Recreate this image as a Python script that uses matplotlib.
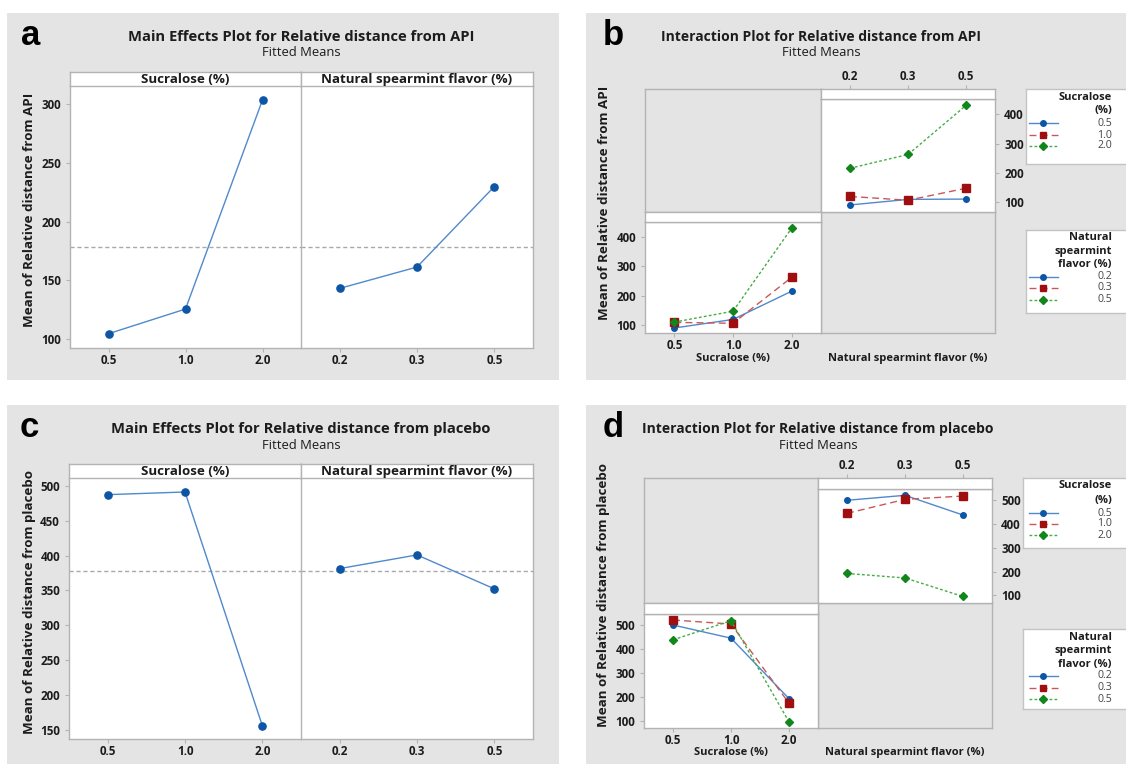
import matplotlib
matplotlib.use('Agg')
import matplotlib.pyplot as plt
from matplotlib.patches import Rectangle
import numpy as np

plt.rcParams['font.family'] = ['Open Sans', 'DejaVu Sans']
plt.rcParams['font.weight'] = 'bold'

# ---------------- data ----------------
sucralose_levels = ['0.5', '1.0', '2.0']
spearmint_levels = ['0.2', '0.3', '0.5']

api_main_sucralose = [104.5, 125.5, 303.7]
api_main_spearmint = [143.1, 161.3, 229.9]
api_grand_mean = 178.0

placebo_main_sucralose = [487.6, 491.4, 155.7]
placebo_main_spearmint = [381.4, 401.0, 352.3]
placebo_grand_mean = 378.1

# cell means: rows = sucralose level, columns = spearmint level
api_cell_means = [[91, 110, 111],
                  [120, 107, 148],
                  [216, 263, 430]]
placebo_cell_means = [[500, 521, 438],
                      [445, 504, 518],
                      [192, 173, 95]]

api_yticks = [100, 200, 300, 400]
placebo_yticks = [100, 200, 300, 400, 500]
api_main_yticks = [100, 150, 200, 250, 300]
placebo_main_yticks = [150, 200, 250, 300, 350, 400, 450, 500]

# ---------------- styling ----------------
W, H = 1126, 764
fig = plt.figure(figsize=(W / 100, H / 100), dpi=100)
fig.patch.set_facecolor('white')

BG = '#e4e4e4'
SPINE = '#b3b3b3'
TXT = '#1c1c1c'
BLUE_L, BLUE_M = '#5089cc', '#0d56a6'
RED_L, RED_M = '#c8585a', '#a00f0f'
GREEN_L, GREEN_M = '#45ad45', '#11861a'

series_styles = [
    dict(color=BLUE_L, ls='-', lw=1.0, marker='o', ms=4.0, mfc=BLUE_M, mec=BLUE_M),
    dict(color=RED_L, ls=(0, (5, 3)), lw=1.0, marker='s', ms=5.2, mfc=RED_M, mec=RED_M),
    dict(color=GREEN_L, ls=(0, (2, 1.6)), lw=1.0, marker='D', ms=4.5, mfc=GREEN_M, mec=GREEN_M),
]
legend_ms = [4.0, 4.6, 4.0]


def ax_px(x0, y0, x1, y1, **kw):
    return fig.add_axes([x0 / W, 1 - y1 / H, (x1 - x0) / W, (y1 - y0) / H], **kw)


def txt(x, y, s, **kw):
    return fig.text(x / W, 1 - y / H, s, **kw)


def panel_bg(x0, y0, x1, y1):
    fig.add_artist(Rectangle((x0 / W, 1 - y1 / H), (x1 - x0) / W, (y1 - y0) / H,
                             transform=fig.transFigure, facecolor=BG,
                             edgecolor='none', zorder=-10))


def style(ax, fc='white'):
    ax.set_facecolor(fc)
    for s in ax.spines.values():
        s.set_color(SPINE)
        s.set_linewidth(1.0)
    ax.tick_params(colors=SPINE, labelcolor=TXT, length=3, width=0.8, labelsize=8.4)


def strip(x0, y0, x1, y1, label=None, top_labels=None):
    sax = ax_px(x0, y0, x1, y1)
    style(sax)
    sax.set_yticks([])
    if top_labels is None:
        sax.set_xticks([])
    else:
        sax.set_xlim(-0.5, 2.5)
        sax.set_xticks(np.arange(len(top_labels)), top_labels)
        sax.xaxis.tick_top()
        sax.tick_params(axis='x', pad=1.5)
    if label:
        sax.text(0.5, 0.45, label, ha='center', va='center', fontsize=9.6,
                 fontweight='bold', color=TXT, transform=sax.transAxes)
    return sax


def main_effects(x0, xm, x1, ys, yb, ybot, ylim, yticks, sucr, spear, gmean,
                 ylabel, letter, title, title_x, title_y):
    specs = [(x0, xm, sucr, sucralose_levels, 'Sucralose (%)', True),
             (xm, x1, spear, spearmint_levels, 'Natural spearmint flavor (%)', False)]
    for a, b, vals, levels, name, left in specs:
        ax = ax_px(a, yb, b, ybot)
        style(ax)
        pos = np.arange(len(levels))
        ax.axhline(gmean, color='#a9a9a9', ls=(0, (3, 2)), lw=1.0, zorder=1)
        ax.plot(pos, vals, color=BLUE_L, lw=1.0, marker='o', ms=5.2,
                mfc=BLUE_M, mec=BLUE_M, zorder=3)
        ax.set_xlim(-0.5, 2.5)
        ax.set_ylim(*ylim)
        ax.set_xticks(pos, levels)
        ax.tick_params(axis='x', pad=1.5)
        if left:
            ax.set_yticks(yticks)
            ax.spines['right'].set_visible(False)
        else:
            ax.set_yticks([])
        ax.spines['top'].set_visible(False)
        strip(a, ys, b, yb, label=name)
    txt(30, (ys + ybot) / 2, ylabel, rotation=90, ha='center', va='center',
        fontsize=9.6, fontweight='bold', color=TXT)
    txt(title_x, title_y, title, ha='center', va='center', fontsize=10.6,
        fontweight='bold', color=TXT)
    txt(title_x, title_y + 16, 'Fitted Means', ha='center', va='center',
        fontsize=9.4, fontweight='normal', color=TXT)
    txt(x0 - 49, title_y + 8, letter, ha='left', va='baseline', fontsize=25,
        fontweight='bold', color='black', family=['Liberation Sans', 'DejaVu Sans'])


def legend_box(x0, y0, y1, title_lines, labels, title_y, entry_y):
    lax = ax_px(x0, y0, x0 + 110, y1)
    lax.set_facecolor('white')
    for s in lax.spines.values():
        s.set_color('#c4c4c4')
        s.set_linewidth(1.0)
    lax.set_xticks([])
    lax.set_yticks([])
    lax.set_xlim(0, 110)
    lax.set_ylim(y1 - y0, 0)
    xr = 1112 - x0
    for k, line in enumerate(title_lines):
        lax.text(xr, title_y[k] - y0, line, ha='right', va='center', fontsize=8,
                 fontweight='bold', color=TXT)
    for k, lab in enumerate(labels):
        yy = entry_y[k] - y0
        st = series_styles[k]
        lax.plot([1029 - x0, 1058 - x0], [yy, yy], color=st['color'], ls=st['ls'], lw=1.0)
        lax.plot([1043 - x0], [yy], ls='none', marker=st['marker'], ms=legend_ms[k],
                 mfc=st['mfc'], mec=st['mec'])
        lax.text(xr, yy, lab, ha='right', va='center', fontsize=7.6,
                 fontweight='normal', color='#444444')


def interaction(gx0, gxm, gx1, gy0, gym, gy1, sh, tr_ylim, bl_ylim, yticks, cells,
                ylabel, letter, title, title_y, letter_x, leg1, leg2):
    # empty grey cells
    for (a, b, c, d) in [(gx0, gy0, gxm, gym), (gxm, gym, gx1, gy1)]:
        e = ax_px(a, b, c, d)
        style(e, fc=BG)
        e.set_xticks([])
        e.set_yticks([])
    pos = np.arange(3)
    # top-right: x = spearmint, series = sucralose
    tr = ax_px(gxm, gy0 + sh, gx1, gym)
    style(tr)
    for i in range(3):
        tr.plot(pos, cells[i], **series_styles[i])
    tr.set_xlim(-0.5, 2.5)
    tr.set_ylim(*tr_ylim)
    tr.set_xticks([])
    tr.set_yticks(yticks)
    tr.yaxis.tick_right()
    strip(gxm, gy0, gx1, gy0 + sh, top_labels=spearmint_levels)
    # bottom-left: x = sucralose, series = spearmint
    bl = ax_px(gx0, gym + sh, gxm, gy1)
    style(bl)
    for j in range(3):
        bl.plot(pos, [cells[i][j] for i in range(3)], **series_styles[j])
    bl.set_xlim(-0.5, 2.5)
    bl.set_ylim(*bl_ylim)
    bl.set_xticks(pos, sucralose_levels)
    bl.set_yticks(yticks)
    bl.tick_params(axis='x', pad=1.2)
    strip(gx0, gym, gxm, gym + sh)

    txt((gx0 + gxm) / 2, gy1 + 25, 'Sucralose (%)', ha='center', va='center',
        fontsize=8, fontweight='bold', color=TXT)
    txt((gxm + gx1) / 2, gy1 + 25, 'Natural spearmint flavor (%)', ha='center',
        va='center', fontsize=8, fontweight='bold', color=TXT)
    txt(gx0 - 41, (gy0 + gy1) / 2 - 8, ylabel, rotation=90, ha='center', va='center',
        fontsize=9.6, fontweight='bold', color=TXT)
    txt(gxm, title_y, title, ha='center', va='center', fontsize=10.0,
        fontweight='bold', color=TXT)
    txt(gxm, title_y + 16, 'Fitted Means', ha='center', va='center',
        fontsize=9.4, fontweight='normal', color=TXT)
    txt(letter_x, title_y + 8, letter, ha='left', va='baseline', fontsize=25,
        fontweight='bold', color='black', family=['Liberation Sans', 'DejaVu Sans'])
    legend_box(gx1 + 31, leg1[0], leg1[1], ['Sucralose', '(%)'], sucralose_levels,
               leg1[2], leg1[3])
    legend_box(gx1 + 31, leg2[0], leg2[1], ['Natural', 'spearmint', 'flavor (%)'],
               spearmint_levels, leg2[2], leg2[3])


# panel backgrounds
panel_bg(7, 13, 559, 380)
panel_bg(586, 13, 1126, 380)
panel_bg(7, 405, 559, 764)
panel_bg(586, 405, 1126, 764)

# a
main_effects(70, 301, 533, 72, 86, 348, (92.3, 315.6), api_main_yticks,
             api_main_sucralose, api_main_spearmint, api_grand_mean,
             'Mean of Relative distance from API', 'a',
             'Main Effects Plot for Relative distance from API', 301, 37)
# c
main_effects(69, 301, 533, 464, 478, 739, (136.6, 511.5), placebo_main_yticks,
             placebo_main_sucralose, placebo_main_spearmint, placebo_grand_mean,
             'Mean of Relative distance from placebo', 'c',
             'Main Effects Plot for Relative distance from placebo', 301, 429)
# b
interaction(645, 821, 995, 89, 212, 333, 10, (67, 452), (74, 451), api_yticks,
            api_cell_means, 'Mean of Relative distance from API', 'b',
            'Interaction Plot for Relative distance from API', 37, 603,
            (89, 164, [97, 110], [123, 135, 146]),
            (230, 313, [238, 252, 265], [277, 288, 300]))
# d
interaction(644, 818, 992, 478, 603, 728, 11, (67.6, 547.6), (69.5, 546), placebo_yticks,
            placebo_cell_means, 'Mean of Relative distance from placebo', 'd',
            'Interaction Plot for Relative distance from placebo', 429, 603,
            (478, 548, [486, 500], [513, 524, 535]),
            (629, 709, [637, 651, 664], [676, 688, 699]))

fig.savefig('out.png', dpi=100, facecolor='white')
